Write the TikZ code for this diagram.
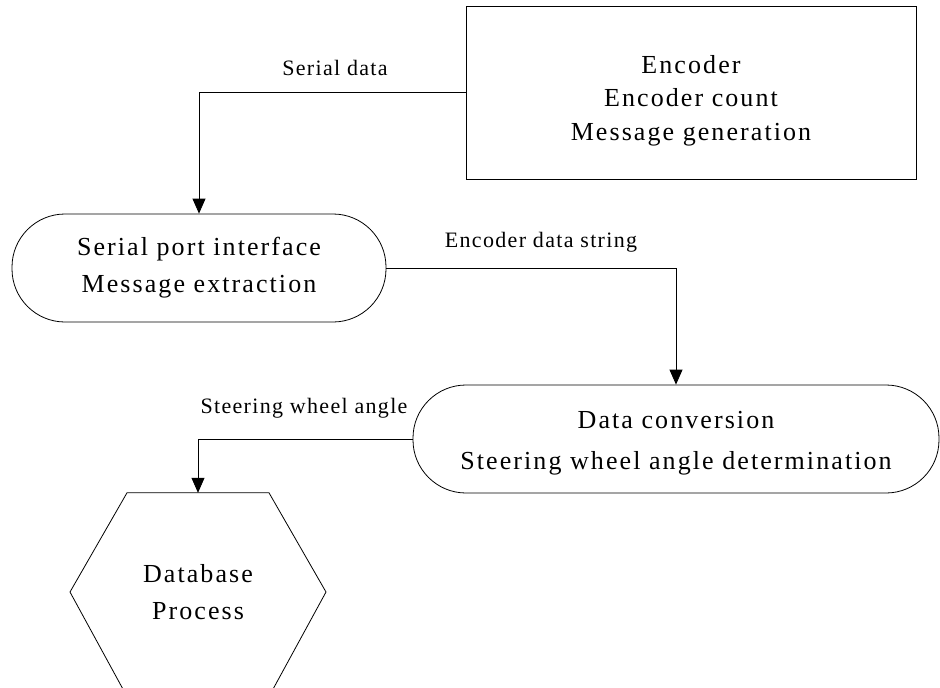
\documentclass[tikz,border=0pt]{standalone}
\usepackage{fontspec}
\setmainfont{Liberation Serif}
\newfontfamily\mainf{Liberation Serif}[LetterSpace=8]
\newfontfamily\lblf{Liberation Serif}[LetterSpace=6]
\usetikzlibrary{arrows.meta}
\tikzset{
  boxtext/.style={align=center, font=\mainf\fontsize{26}{34}\selectfont, inner sep=0pt},
  stadium/.style={draw, line width=0.8pt, rounded corners=53pt, inner sep=0pt},
  lbl/.style={font=\lblf\fontsize{22}{26}\selectfont, inner sep=0pt, anchor=base},
  arr/.style={draw, line width=0.8pt, -{Triangle[length=15pt,width=13pt]}},
}
\begin{document}
\begin{tikzpicture}[x=1pt,y=1pt]
\useasboundingbox (0,0) rectangle (940,-688);
\node[draw, line width=0.8pt, minimum width=450pt, minimum height=173pt, inner sep=0pt] (enc) at (691,-92.5) {};
\node[boxtext, font=\mainf\fontsize{26}{33.5}\selectfont] (enctext) at (691,-100.5) {Encoder\\Encoder count\\Message generation};
\node[stadium, minimum width=374pt, minimum height=108pt] (ser) at (199,-268) {};
\node[boxtext, font=\mainf\fontsize{26}{37}\selectfont] (sertext) at (199,-268) {Serial port interface\\Message extraction};
\node[stadium, minimum width=526pt, minimum height=108pt] (dat) at (676,-439) {};
\node[boxtext, font=\mainf\fontsize{26}{41}\selectfont] (dattext) at (676,-443) {Data conversion\\Steering wheel angle determination};
\node[boxtext, minimum width=256pt, minimum height=198pt, font=\mainf\fontsize{26}{37}\selectfont] (db) at (198,-592) {Database\\Process};
\draw[line width=0.8pt] (db.north) ++(-71,0) -- ++(142,0) -- (326,-592) -- (272,-691) -- (124,-691) -- (70,-592) -- cycle;
\draw[arr] (enc.west) -| (ser.north);
\draw[arr] (ser.east) -| (dat.north);
\draw[arr] (dat.west) -| (db.north);
\node[lbl] (l1) at (335,-75) {Serial data};
\node[lbl] (l2) at (541,-247) {Encoder data string};
\node[lbl] (l3) at (304,-413) {Steering wheel angle};
\end{tikzpicture}
\end{document}
